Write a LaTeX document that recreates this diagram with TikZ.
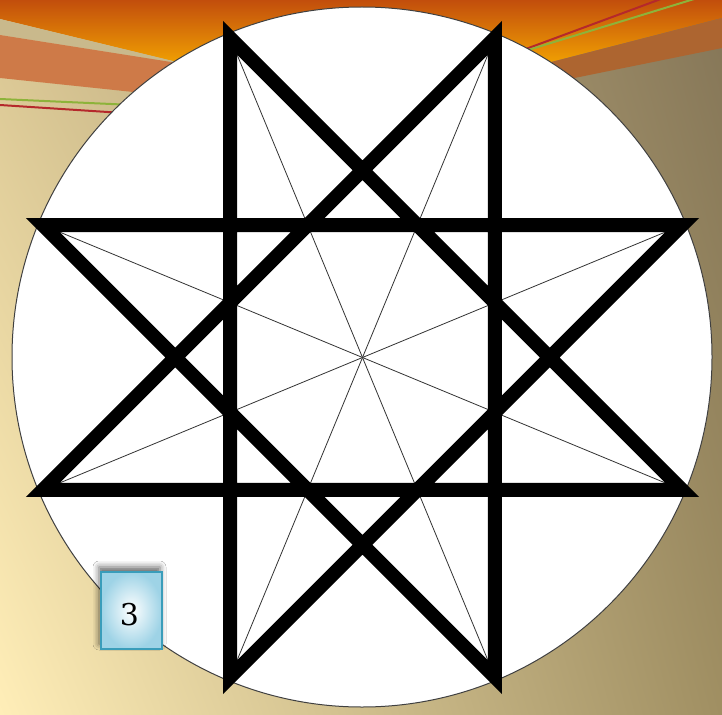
\documentclass[tikz,border=0pt]{standalone}
\usepackage{fontspec}
\newfontfamily\numfont{DejaVu Serif}
\usetikzlibrary{shadows.blur,shadings}
\definecolor{bgTL}{HTML}{D8C592}
\definecolor{bgBL}{HTML}{FFEEB8}
\definecolor{bgTR}{HTML}{857658}
\definecolor{bgBR}{HTML}{A08F62}
\definecolor{orTop}{HTML}{C24E0C}
\definecolor{orBot}{HTML}{FBB300}
\definecolor{tanStripe}{HTML}{C9B98C}
\definecolor{redBand}{HTML}{CE7A48}
\definecolor{brownBand}{HTML}{AD6530}
\definecolor{lnGreen}{HTML}{8DB33A}
\definecolor{lnRed}{HTML}{B5282B}
\definecolor{boxEdge}{HTML}{3A9DBA}
\definecolor{boxOuter}{HTML}{9ED3E6}
\tikzset{
  starline/.style={line width=14pt, line join=miter, black},
  spoke/.style={line width=0.8pt, black!80},
  disc/.style={circle, draw=black!75, line width=1pt, fill=white, minimum size=700pt, inner sep=0pt},
  numbox/.style={draw=boxEdge, line width=1.5pt, shading=radial, inner color=white, outer color=boxOuter,
    minimum width=61pt, minimum height=77pt, inner sep=0pt,
    blur shadow={shadow xshift=-2pt, shadow yshift=5pt, shadow blur radius=6pt, shadow opacity=60}},
  thinline/.style={line width=2pt}
}
\begin{document}
\begin{tikzpicture}[x=1pt,y=-1pt]
\useasboundingbox (0,0) rectangle (722,714);
\clip (0,0) rectangle (722,714);
% background
\shade[upper left=bgTL, upper right=bgTR, lower left=bgBL, lower right=bgBR] (0,0) rectangle (722,714);
% orange sky
\shade[top color=orTop, bottom color=orBot] (0,0) -- (722,0) -- (722,18) -- (551,62) -- (362,78) -- (177,62) -- (0,19) -- cycle;
% left stripes
\fill[tanStripe] (0,19) -- (200,67.6) -- (200,66.6) -- (0,35) -- cycle;
\fill[redBand] (0,35) -- (200,66.6) -- (200,99) -- (0,78) -- cycle;
\draw[thinline, lnGreen] (0,99) -- (200,108);
\draw[thinline, lnRed] (0,105) -- (200,118);
% right stripes
\fill[brownBand] (530,67.5) -- (722,18) -- (722,48) -- (540,85) -- cycle;
\draw[thinline, lnRed] (515,53) -- (700,-15.5);
\draw[thinline, lnGreen] (515,54) -- (730,-12);
% disc
\node (disc) [disc] at (362,357) {};
% star geometry
\coordinate (c) at (362.5,357.5);
\foreach \k in {0,...,7}{
  \coordinate (v\k) at ([shift={(c)}]{22.5+45*\k}:346);
}
\foreach \k in {0,...,7}{
  \draw[spoke] (c) -- (v\k);
}
\draw[starline] (v0) -- (v3) -- (v6) -- (v1) -- (v4) -- (v7) -- (v2) -- (v5) -- cycle;
% label
\node (num) [numbox] at (131.5,610.5) {\numfont\fontsize{30}{32}\selectfont\kern-4pt\raisebox{-14.5pt}[0pt][0pt]{3}};
\end{tikzpicture}
\end{document}
